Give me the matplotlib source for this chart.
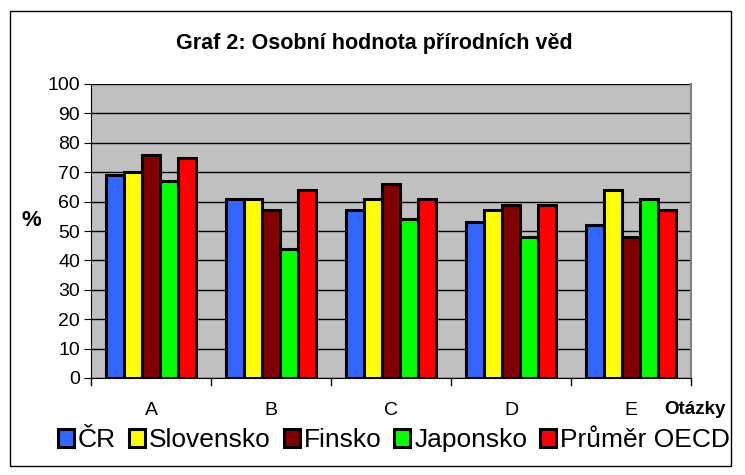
import numpy as np
import matplotlib
matplotlib.use('Agg')
import matplotlib.pyplot as plt
from matplotlib.patches import Rectangle

plt.rcParams['font.family'] = ['Liberation Sans', 'DejaVu Sans']

categories = ['A', 'B', 'C', 'D', 'E']
series_names = ['ČR', 'Slovensko', 'Finsko', 'Japonsko', 'Průměr OECD']
cr = [69, 61, 57, 53, 52]
slovensko = [70, 61, 61, 57, 64]
finsko = [76, 57, 66, 59, 48]
japonsko = [67, 44, 54, 48, 61]
oecd = [75, 64, 61, 59, 57]
colors = ['#3366FF', '#FFFF00', '#800000', '#00FF00', '#FF0000']

fig = plt.figure(figsize=(7.45, 4.75), dpi=100)
# outer chart border
fig.patches.append(Rectangle((0.013, 0.018), 0.968, 0.958, transform=fig.transFigure,
                             fill=False, edgecolor='black', linewidth=1))

ax = fig.add_axes([91 / 745, 1 - 378 / 475, 600 / 745, 294 / 475])
ax.set_facecolor('#C0C0C0')

x = np.arange(len(categories))
width = 0.15
all_series = [cr, slovensko, finsko, japonsko, oecd]
for i, (vals, name, col) in enumerate(zip(all_series, series_names, colors)):
    ax.bar(x + (i - 2) * width, vals, width, color=col, edgecolor='black',
           linewidth=2.2, label=name, zorder=3)

ax.set_xlim(-0.5, len(categories) - 0.5)
ax.set_ylim(0, 100)
ax.set_yticks(range(0, 101, 10))
ax.yaxis.grid(True, color='black', linewidth=1, zorder=1)
ax.set_xticks(np.arange(-0.5, len(categories), 1))
ax.set_xticklabels([])
ax.set_xticks(x, minor=True)
ax.set_xticklabels(categories, minor=True)
ax.tick_params(axis='x', which='minor', length=0, labelsize=14, pad=17)
ax.tick_params(axis='x', which='major', direction='in', length=0)
ax.tick_params(axis='y', direction='out', length=5, labelsize=14, pad=3)

ax.spines['top'].set_visible(False)
ax.spines['right'].set_color('#808080')
ax.spines['right'].set_linewidth(1.5)
ax.spines['left'].set_color('black')
ax.spines['bottom'].set_color('black')

# x tick marks pointing down across the axis
for xt in np.arange(-0.5, len(categories), 1):
    ax.plot([xt, xt], [0, -2.5], color='black', linewidth=1, clip_on=False)

fig.text(374 / 745, 1 - 44 / 475, 'Graf 2: Osobní hodnota přírodních věd',
         ha='center', va='center', fontsize=15.5, fontweight='bold')
fig.text(31 / 745, 1 - 220 / 475, '%', ha='center', va='center',
         fontsize=16, fontweight='bold')
fig.text(695 / 745, 1 - 409 / 475, 'Otázky', ha='center', va='center',
         fontsize=13.5, fontweight='bold')

fig.legend(loc='center', bbox_to_anchor=(394 / 745, 1 - 440 / 475), ncol=5,
           frameon=False, fontsize=19, handlelength=0.6, handleheight=0.7,
           handletextpad=0.15, columnspacing=0.5, borderaxespad=0)

fig.savefig('out.png', dpi=100)
